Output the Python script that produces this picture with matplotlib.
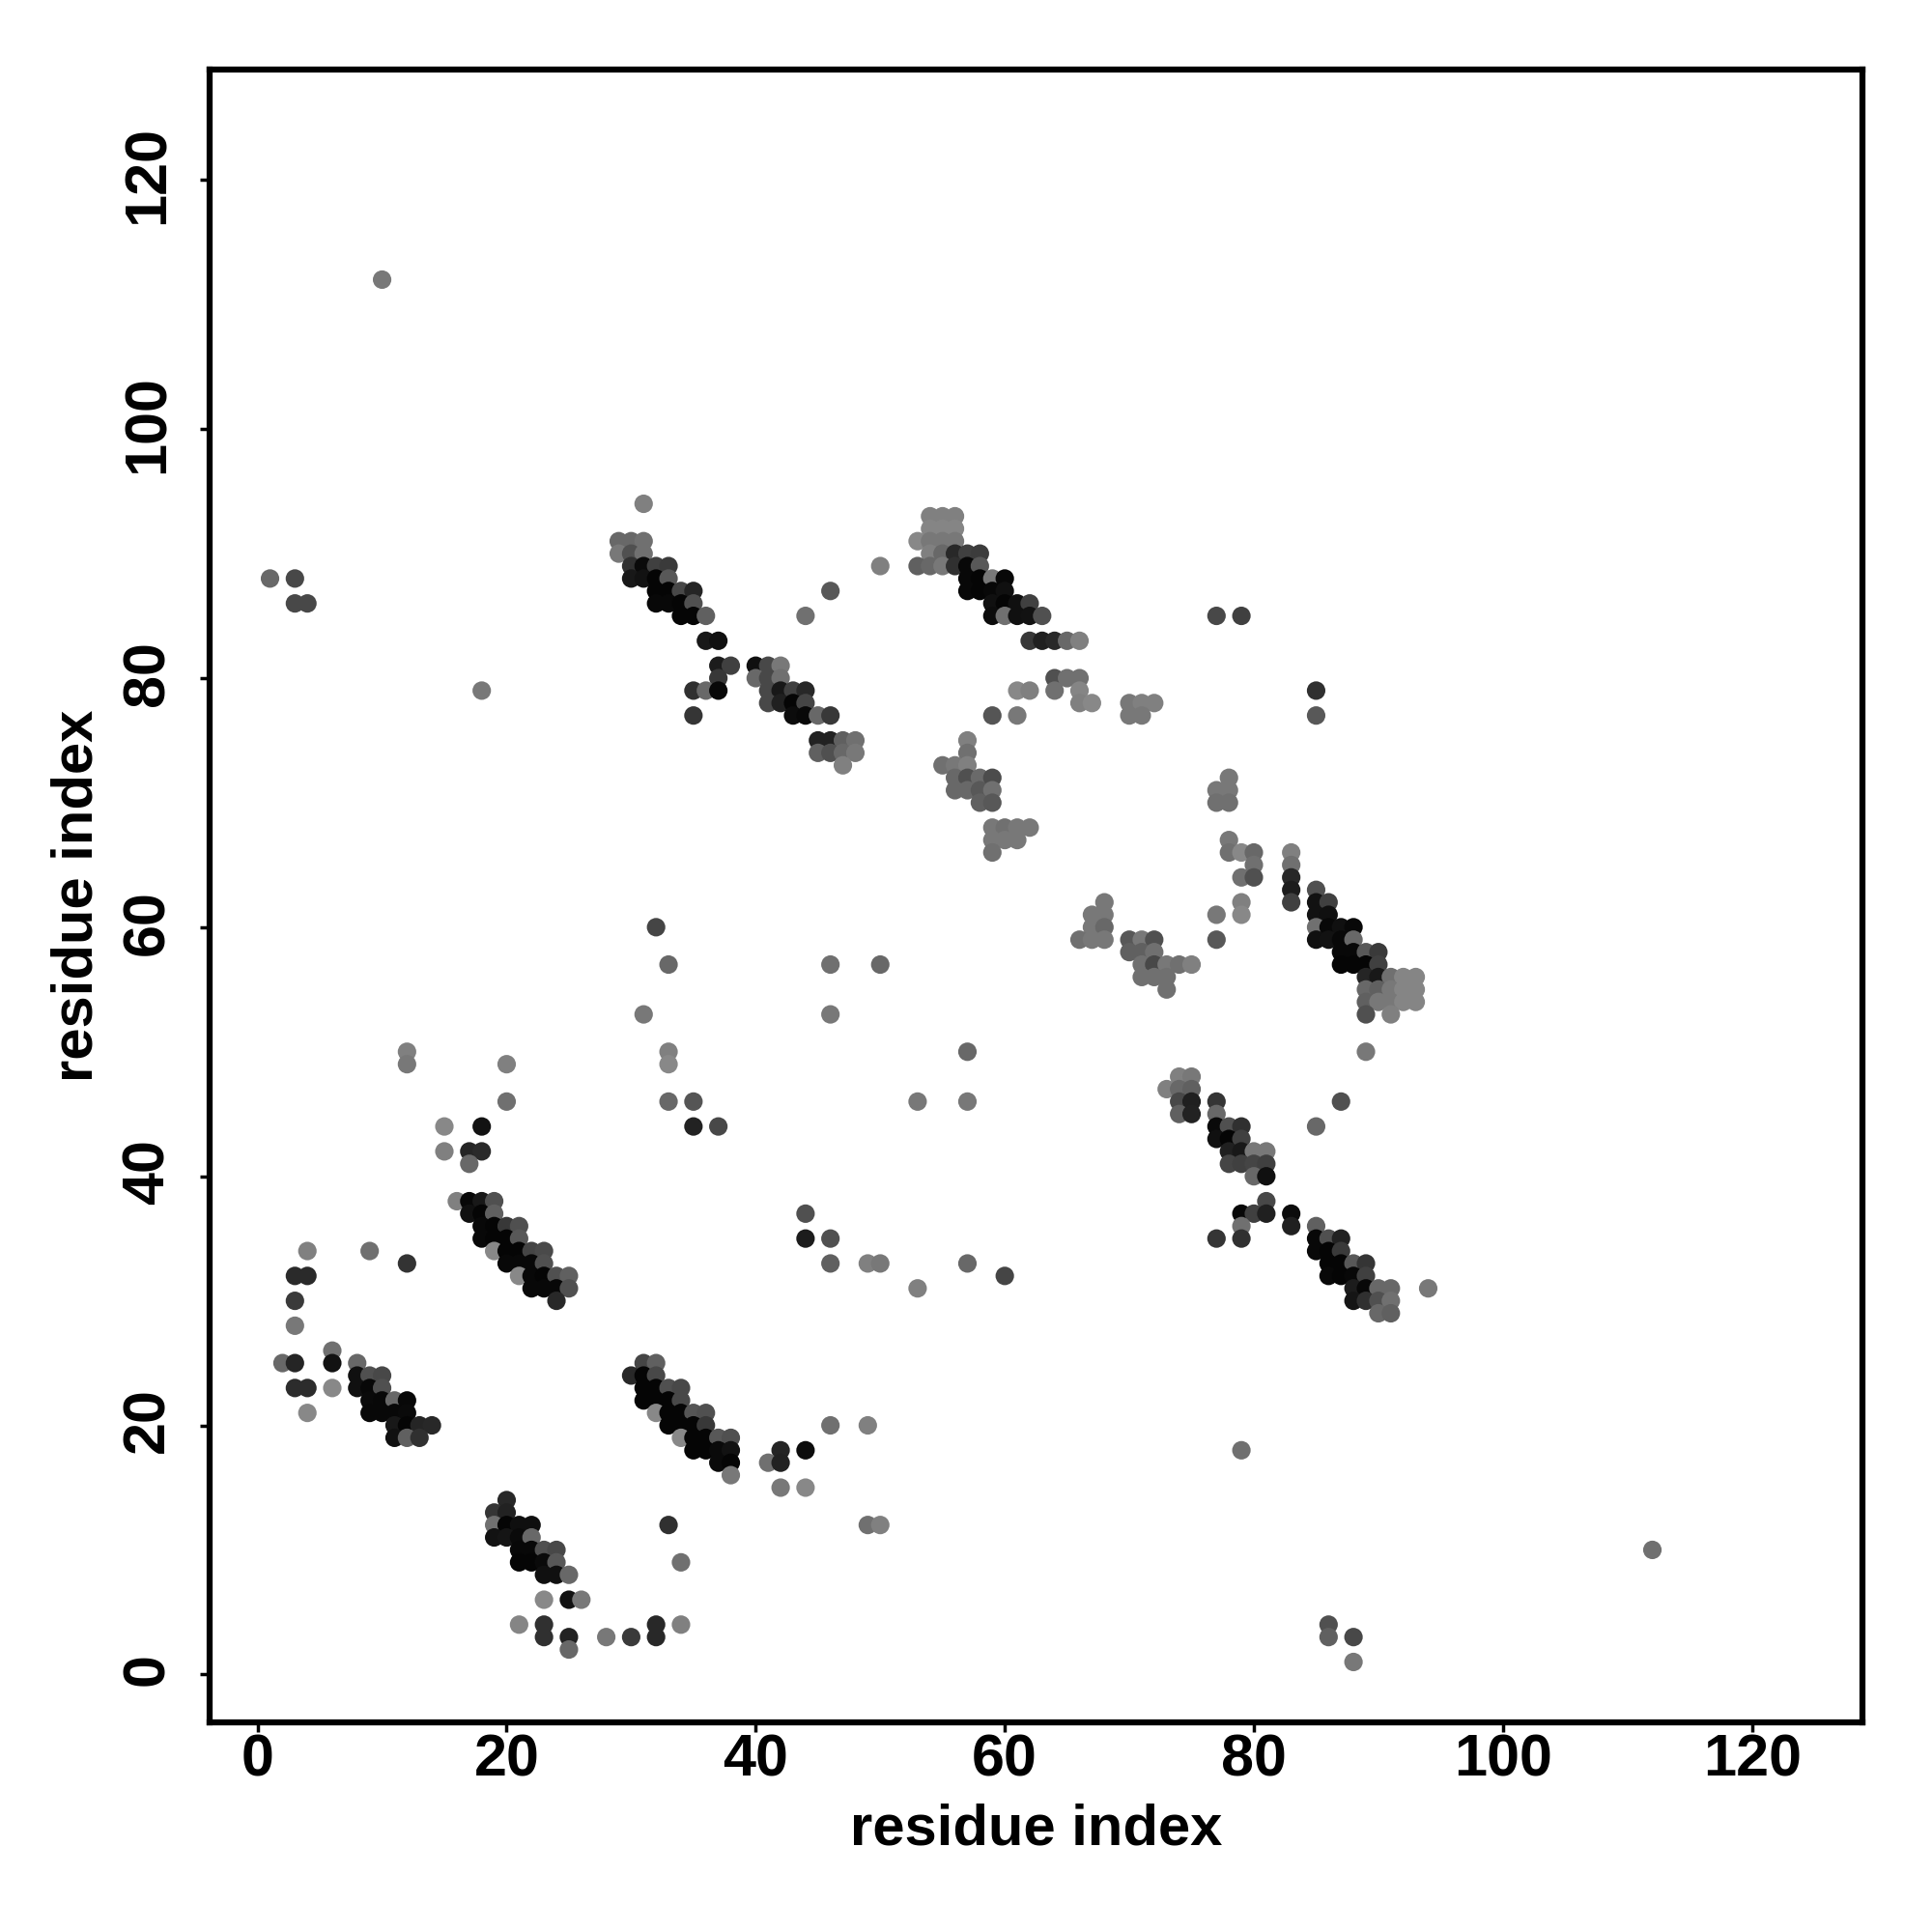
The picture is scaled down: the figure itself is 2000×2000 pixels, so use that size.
import matplotlib
matplotlib.use("Agg")
import matplotlib.pyplot as plt
from matplotlib.transforms import ScaledTranslation

# contact map: residue i, residue j and grey level of each dot (0 black, 255 white)
res_i = [
    4, 9, 12, 3, 4, 3, 3, 6, 2, 3, 6, 8, 3, 4, 6, 4,
    8, 9, 10, 8, 9, 10, 9, 10, 11, 12, 9, 10, 11, 12, 11, 12, 13, 14, 11, 12, 13,
    20, 19, 20, 19, 20, 21, 22, 19, 20, 21, 22, 21, 22, 23, 24, 21, 22, 23, 24, 23, 24, 25,
    23, 25, 26, 21, 23, 32, 34, 23, 25, 28, 30, 32, 25,
    16, 17, 18, 19, 17, 18, 19, 18, 19, 20, 21, 18, 19, 20, 21, 19, 20, 21, 22, 23, 20, 21, 22, 23, 21, 22, 23, 24, 25, 22, 23, 24, 25, 24,
    12, 12, 20, 33, 33, 20, 33, 35, 35, 15, 18, 15, 17, 18, 17,
    31, 32, 30, 31, 32, 31, 32, 33, 34, 31, 32, 33, 34, 32, 33, 34, 35, 36, 33, 34, 35, 36, 34, 35, 36, 37, 38, 35, 36, 37, 38, 37, 38, 38,
    44, 44, 46, 46, 49, 50, 57, 53, 46, 49, 42, 44, 41, 42, 42, 44, 33, 49, 50, 34,
    31, 29, 30, 31, 29, 30, 31, 30, 31, 32, 33, 30, 31, 32, 33, 32, 33, 34, 35, 32, 33, 34, 35, 34, 35, 36, 36, 37,
    37, 38, 40, 41, 42, 37, 40, 41, 42, 35, 36, 37, 41, 42, 43, 44, 41, 42, 43, 44, 35, 43, 44, 45, 46, 45, 46, 47, 48, 45, 46, 47, 48, 47,
    50, 46, 44,
    54, 55, 56, 54, 55, 56, 53, 54, 55, 56, 54, 55, 56, 57, 58, 53, 54, 55, 56, 57, 58, 57, 58, 59, 60, 57, 58, 59, 60, 59, 60, 61, 62, 59, 60, 61, 62, 63,
    62, 63, 64, 65, 66, 64, 65, 66, 61, 62, 64, 66, 66, 67, 70, 71, 72, 59, 61, 70, 71,
    57, 57, 55, 56, 57, 56, 57, 58, 59, 56, 57, 58, 59, 58, 59, 59, 60, 61, 62, 59, 60, 61, 59,
    68, 67, 68, 67, 68, 66, 67, 68, 70, 71, 72, 70, 71, 72, 71, 72, 73, 74, 75, 71, 72, 73, 73,
    78, 77, 78, 77, 78, 78, 78, 79, 80, 80, 79, 80, 83, 83, 83, 83, 83, 79, 79, 77, 77,
    85, 85, 86, 85, 86, 85, 86, 87, 88, 85, 86, 87, 88, 87, 88, 89, 90, 87, 88, 89, 90, 89, 90, 91, 92, 93, 89, 90, 91, 92, 93, 89, 90, 91, 92, 93, 89, 91, 89,
    74, 75, 73, 74, 75, 74, 75, 77, 74, 75, 77, 77, 78, 79, 77, 78, 79, 78, 79, 80, 81, 78, 79, 80, 81, 80, 81, 81, 79, 80, 81, 83, 79, 83, 77, 79,
    85, 85, 86, 87, 85, 86, 87, 86, 87, 88, 89, 86, 87, 88, 89, 88, 89, 90, 91, 88, 89, 90, 91, 90, 91, 94, 87, 85,
    1, 3, 3, 4, 10, 18, 32, 33, 31, 46, 50, 46, 57, 53, 57, 37, 60, 77, 79, 85, 85, 79, 112, 86, 86, 88, 88,
]
res_j = [
    34, 34, 33, 32, 32, 30, 28, 26, 25, 25, 25, 25, 23, 23, 23, 21,
    24, 24, 24, 23, 23, 23, 22, 22, 22, 22, 21, 21, 21, 21, 20, 20, 20, 20, 19, 19, 19,
    14, 13, 13, 12, 12, 12, 12, 11, 11, 11, 11, 10, 10, 10, 10, 9, 9, 9, 9, 8, 8, 8,
    6, 6, 6, 4, 4, 4, 4, 3, 3, 3, 3, 3, 2,
    38, 38, 38, 38, 37, 37, 37, 36, 36, 36, 36, 35, 35, 35, 35, 34, 34, 34, 34, 34, 33, 33, 33, 33, 32, 32, 32, 32, 32, 31, 31, 31, 31, 30,
    50, 49, 49, 50, 49, 46, 46, 46, 44, 44, 44, 42, 42, 42, 41,
    25, 25, 24, 24, 24, 23, 23, 23, 23, 22, 22, 22, 22, 21, 21, 21, 21, 21, 20, 20, 20, 20, 19, 19, 19, 19, 19, 18, 18, 18, 18, 17, 17, 16,
    37, 35, 35, 33, 33, 33, 33, 31, 20, 20, 18, 18, 17, 17, 15, 15, 12, 12, 12, 9,
    94, 91, 91, 91, 90, 90, 90, 89, 89, 89, 89, 88, 88, 88, 88, 87, 87, 87, 87, 86, 86, 86, 86, 85, 85, 85, 83, 83,
    81, 81, 81, 81, 81, 80, 80, 80, 80, 79, 79, 79, 79, 79, 79, 79, 78, 78, 78, 78, 77, 77, 77, 77, 77, 75, 75, 75, 75, 74, 74, 74, 74, 73,
    89, 87, 85,
    93, 93, 93, 92, 92, 92, 91, 91, 91, 91, 90, 90, 90, 90, 90, 89, 89, 89, 89, 89, 89, 88, 88, 88, 88, 87, 87, 87, 87, 86, 86, 86, 86, 85, 85, 85, 85, 85,
    83, 83, 83, 83, 83, 80, 80, 80, 79, 79, 79, 79, 78, 78, 78, 78, 78, 77, 77, 77, 77,
    75, 74, 73, 73, 73, 72, 72, 72, 72, 71, 71, 71, 71, 70, 70, 68, 68, 68, 68, 67, 67, 67, 66,
    62, 61, 61, 60, 60, 59, 59, 59, 59, 59, 59, 58, 58, 58, 57, 57, 57, 57, 57, 56, 56, 56, 55,
    72, 71, 71, 70, 70, 67, 66, 66, 66, 65, 64, 64, 66, 65, 64, 63, 62, 62, 61, 61, 59,
    63, 62, 62, 61, 61, 60, 60, 60, 60, 59, 59, 59, 59, 58, 58, 58, 58, 57, 57, 57, 57, 56, 56, 56, 56, 56, 55, 55, 55, 55, 55, 54, 54, 54, 54, 54, 53, 53, 50,
    48, 48, 47, 47, 47, 46, 46, 46, 45, 45, 45, 44, 44, 44, 43, 43, 43, 42, 42, 42, 42, 41, 41, 41, 41, 40, 40, 38, 37, 37, 37, 37, 36, 36, 35, 35,
    36, 35, 35, 35, 34, 34, 34, 33, 33, 33, 33, 32, 32, 32, 32, 31, 31, 31, 31, 30, 30, 30, 30, 29, 29, 31, 46, 44,
    88, 88, 86, 86, 112, 79, 60, 57, 53, 57, 57, 53, 50, 46, 46, 44, 32, 85, 85, 79, 77, 18, 10, 4, 3, 3, 1,
]
grey = [
    0x80, 0x70, 0x33, 0x2a, 0x2a, 0x3a, 0x78, 0x70, 0x68, 0x25, 0x12, 0x68, 0x2c, 0x2c, 0x88, 0x88,
    0x10, 0x50, 0x48, 0x10, 0x08, 0x50, 0x0a, 0x08, 0x68, 0x08, 0x08, 0x08, 0x08, 0x0a, 0x18, 0x05, 0x25, 0x28, 0x10, 0x60, 0x30,
    0x28, 0x35, 0x22, 0x70, 0x05, 0x0f, 0x0f, 0x12, 0x15, 0x0a, 0x68, 0x08, 0x08, 0x50, 0x48, 0x05, 0x05, 0x0a, 0x58, 0x10, 0x10, 0x68,
    0x88, 0x12, 0x78, 0x85, 0x30, 0x28, 0x80, 0x30, 0x22, 0x78, 0x3a, 0x28, 0x68,
    0x80, 0x08, 0x18, 0x50, 0x10, 0x05, 0x60, 0x08, 0x05, 0x38, 0x50, 0x08, 0x05, 0x05, 0x58, 0x88, 0x05, 0x05, 0x45, 0x4a, 0x08, 0x08, 0x08, 0x50, 0x88, 0x08, 0x05, 0x50, 0x60, 0x08, 0x08, 0x08, 0x50, 0x28,
    0x80, 0x78, 0x80, 0x80, 0x88, 0x70, 0x68, 0x55, 0x22, 0x88, 0x12, 0x80, 0x25, 0x2a, 0x68,
    0x45, 0x60, 0x28, 0x05, 0x48, 0x05, 0x05, 0x50, 0x48, 0x05, 0x05, 0x05, 0x48, 0x88, 0x05, 0x05, 0x55, 0x50, 0x05, 0x05, 0x05, 0x38, 0x88, 0x05, 0x05, 0x58, 0x50, 0x05, 0x05, 0x0a, 0x12, 0x0a, 0x05, 0x78,
    0x50, 0x1c, 0x50, 0x60, 0x80, 0x78, 0x68, 0x80, 0x70, 0x80, 0x25, 0x0c, 0x70, 0x22, 0x78, 0x88, 0x30, 0x70, 0x80, 0x70,
    0x80, 0x68, 0x68, 0x70, 0x78, 0x50, 0x70, 0x30, 0x0a, 0x40, 0x3a, 0x18, 0x12, 0x05, 0x58, 0x05, 0x05, 0x48, 0x25, 0x08, 0x08, 0x05, 0x50, 0x05, 0x05, 0x60, 0x18, 0x10,
    0x1c, 0x40, 0x10, 0x48, 0x78, 0x38, 0x68, 0x48, 0x70, 0x30, 0x68, 0x08, 0x48, 0x18, 0x40, 0x28, 0x48, 0x20, 0x05, 0x45, 0x35, 0x0c, 0x08, 0x68, 0x38, 0x22, 0x22, 0x60, 0x70, 0x60, 0x50, 0x68, 0x78, 0x80,
    0x80, 0x58, 0x70,
    0x80, 0x80, 0x80, 0x85, 0x85, 0x85, 0x88, 0x78, 0x78, 0x78, 0x80, 0x68, 0x28, 0x40, 0x3c, 0x60, 0x68, 0x78, 0x30, 0x08, 0x58, 0x08, 0x05, 0x78, 0x08, 0x08, 0x05, 0x08, 0x10, 0x10, 0x05, 0x10, 0x40, 0x0c, 0x70, 0x10, 0x12, 0x50,
    0x38, 0x20, 0x28, 0x68, 0x80, 0x50, 0x70, 0x70, 0x88, 0x80, 0x70, 0x85, 0x80, 0x88, 0x78, 0x80, 0x80, 0x55, 0x78, 0x78, 0x78,
    0x80, 0x70, 0x70, 0x78, 0x80, 0x68, 0x50, 0x6a, 0x4c, 0x68, 0x68, 0x58, 0x70, 0x60, 0x58, 0x78, 0x70, 0x78, 0x78, 0x78, 0x78, 0x78, 0x70,
    0x78, 0x78, 0x78, 0x78, 0x68, 0x70, 0x78, 0x78, 0x58, 0x78, 0x50, 0x60, 0x60, 0x70, 0x70, 0x48, 0x78, 0x70, 0x80, 0x70, 0x70, 0x70, 0x70,
    0x78, 0x78, 0x78, 0x70, 0x70, 0x78, 0x70, 0x88, 0x68, 0x70, 0x70, 0x50, 0x80, 0x70, 0x28, 0x1c, 0x40, 0x80, 0x88, 0x78, 0x58,
    0x50, 0x12, 0x40, 0x12, 0x10, 0x70, 0x08, 0x10, 0x08, 0x10, 0x12, 0x08, 0x68, 0x08, 0x08, 0x58, 0x3a, 0x05, 0x05, 0x05, 0x40, 0x25, 0x18, 0x70, 0x85, 0x85, 0x68, 0x60, 0x78, 0x85, 0x85, 0x60, 0x78, 0x78, 0x85, 0x85, 0x50, 0x80, 0x78,
    0x80, 0x78, 0x80, 0x68, 0x60, 0x48, 0x20, 0x35, 0x60, 0x22, 0x68, 0x0a, 0x50, 0x30, 0x10, 0x05, 0x40, 0x20, 0x18, 0x78, 0x78, 0x45, 0x40, 0x45, 0x40, 0x68, 0x10, 0x48, 0x08, 0x40, 0x20, 0x0c, 0x70, 0x20, 0x35, 0x30,
    0x60, 0x08, 0x50, 0x22, 0x08, 0x05, 0x3a, 0x05, 0x05, 0x58, 0x35, 0x08, 0x05, 0x08, 0x40, 0x1c, 0x08, 0x68, 0x68, 0x15, 0x30, 0x50, 0x70, 0x68, 0x60, 0x78, 0x50, 0x68,
    0x68, 0x48, 0x48, 0x48, 0x78, 0x78, 0x45, 0x68, 0x78, 0x70, 0x68, 0x78, 0x68, 0x78, 0x78, 0x48, 0x45, 0x48, 0x40, 0x30, 0x58, 0x70, 0x70, 0x50, 0x60, 0x48, 0x78,
]
tick_values = [0, 20, 40, 60, 80, 100, 120]

plt.rcParams['font.family'] = ['Liberation Sans', 'DejaVu Sans']
plt.rcParams['font.weight'] = 'bold'

fig = plt.figure(figsize=(20, 20), dpi=100)
ax = fig.add_axes([0.1085, 0.1085, 0.8557, 0.8557])

ax.scatter(res_i, res_j, c=grey, cmap='gray', vmin=0, vmax=255, s=190, linewidths=0)

ax.set_xlim(-3.85, 128.9)
ax.set_ylim(-3.85, 128.9)
ax.set_xticks(tick_values)
ax.set_yticks(tick_values)
ax.tick_params(axis='both', direction='out', length=7, width=2.5, labelsize=44)
ax.tick_params(axis='x', pad=1)
ax.tick_params(axis='y', pad=18)
plt.setp(ax.get_yticklabels(), rotation=90, va='center')
# rotated labels sit a little low, nudge them back onto their ticks
nudge = ScaledTranslation(0, 5 / 100, fig.dpi_scale_trans)
for label in ax.get_yticklabels():
    label.set_transform(label.get_transform() + nudge)
for spine in ax.spines.values():
    spine.set_linewidth(4.5)

ax.set_xlabel('residue index', fontsize=43, fontweight='bold')
ax.set_ylabel('residue index', fontsize=43, fontweight='bold')
ax.xaxis.set_label_coords(0.5, -0.0485)
ax.yaxis.set_label_coords(-0.064, 0.5)

fig.savefig('out.png', dpi=100, facecolor='white')
